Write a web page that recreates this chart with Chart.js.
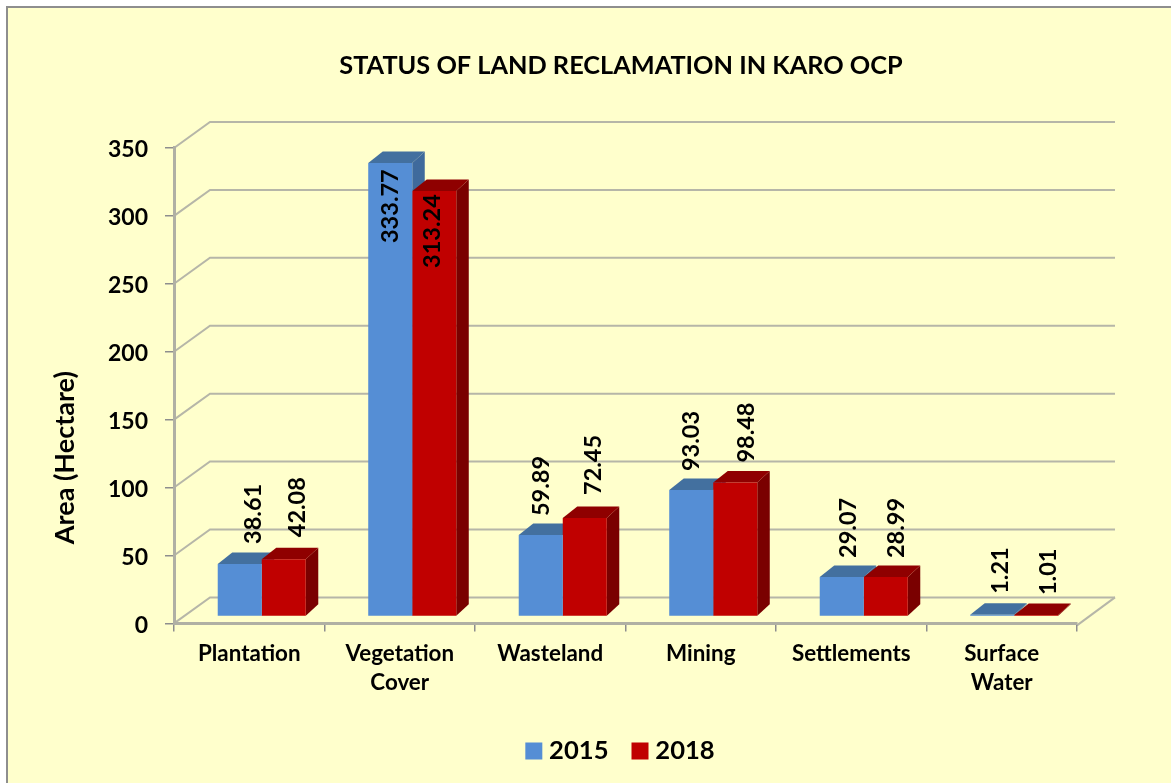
<!DOCTYPE html>
<html>
<head>
<meta charset="utf-8">
<style>
html,body{margin:0;padding:0;background:#fff;}
#wrap{position:absolute;left:0;top:0;width:1171px;height:783px;}
canvas{display:block;filter:blur(0.35px);}
</style>
<script src="https://cdn.jsdelivr.net/npm/chart.js@4/dist/chart.umd.min.js"></script>
</head>
<body>
<div id="wrap"><canvas id="c" width="1171" height="783"></canvas></div>
<script>
const categories = [["Plantation"],["Vegetation","Cover"],["Wasteland"],["Mining"],["Settlements"],["Surface","Water"]];
const seriesNames = ["2015","2018"];
const values2015 = [38.61,333.77,59.89,93.03,29.07,1.21];
const values2018 = [42.08,313.24,72.45,98.48,28.99,1.01];
const yTicks = [0,50,100,150,200,250,300,350];

// styling only
const FONT = "Lato, Carlito, sans-serif";
const front = ["#558ED5","#C00000"], topFace = ["#43709F","#8F0000"], sideFace = ["#3F6A9C","#7A0000"];
const wall = {dx:36, dy:-26};            // depth of the chart box
const barShift = {x:12.5, y:-7};         // bars stand in the middle of the floor
const barDepth = {dx:12.5, dxLeft:14.5, dy:-11.5};
const labelDx = [[14,0,1,0,7,8],[13.5,-1.5,8.5,11,10.5,12]];
const labelGap = [[20,-80,19,19,19,21],[22,-77,23,20,19,20]];

const box3d = {
  id:'box3d',
  afterLayout(chart){
    chart.titleBlock.left = 165; chart.titleBlock.right = 1077;
    chart.legend.left = 169; chart.legend.right = 1077;
    const y = chart.scales.y;
    if(!y._shifted){
      y._shifted = true;
      const orig = y.drawTitle;
      y.drawTitle = function(){
        const t=this.top,b=this.bottom;
        this.top=t+72; this.bottom=b+72;
        orig.call(this);
        this.top=t; this.bottom=b;
      };
    }
  },
  beforeDraw(chart){
    const c = chart.ctx, y = chart.scales.y, a = chart.chartArea;
    c.save();
    c.fillStyle='#fff'; c.fillRect(0,0,1171,783);
    c.fillStyle='#FFFFCC'; c.fillRect(7,7,1171,783);
    c.fillStyle='#8E8E8E';
    c.fillRect(6,6,1171,2); c.fillRect(6,6,2,783);
    c.strokeStyle='#B6B6A8'; c.lineWidth=2;
    yTicks.forEach(v=>{
      const py = y.getPixelForValue(v);
      c.beginPath();
      c.moveTo(a.left,py);
      c.lineTo(a.left+wall.dx,py+wall.dy);
      c.lineTo(a.right+wall.dx+2,py+wall.dy);
      c.stroke();
    });
    // floor, right edge
    const p0 = y.getPixelForValue(0);
    c.beginPath();
    c.moveTo(a.right,p0+2);
    c.lineTo(a.right+wall.dx+2,p0+wall.dy);
    c.stroke();
    c.restore();
  },
  beforeDatasetsDraw(chart){
    const c = chart.ctx;
    c.save();
    c.translate(barShift.x,barShift.y);
    [0,1].forEach(d=>{
      chart.getDatasetMeta(d).data.forEach(b=>{
        const l=b.x-b.width/2, r=b.x+b.width/2, t=b.y, base=b.base;
        c.fillStyle=sideFace[d];
        c.beginPath();
        c.moveTo(r,t); c.lineTo(r+barDepth.dx,t+barDepth.dy);
        c.lineTo(r+barDepth.dx,base+barDepth.dy); c.lineTo(r,base);
        c.closePath(); c.fill();
        c.fillStyle=topFace[d];
        c.beginPath();
        c.moveTo(l,t); c.lineTo(l+barDepth.dxLeft,t+barDepth.dy);
        c.lineTo(r+barDepth.dx,t+barDepth.dy); c.lineTo(r,t);
        c.closePath(); c.fill();
      });
    });
  },
  afterDatasetsDraw(chart){
    chart.ctx.restore();
  },
  afterDraw(chart){
    const c = chart.ctx;
    c.save();
    c.fillStyle='#000';
    c.font='bold 23.5px '+FONT;
    c.textAlign='left'; c.textBaseline='middle';
    [values2015,values2018].forEach((vals,d)=>{
      chart.getDatasetMeta(d).data.forEach((b,i)=>{
        const x=b.x+barShift.x+labelDx[d][i];
        const y=b.y+barShift.y-labelGap[d][i];
        c.save();
        c.translate(x,y); c.rotate(-Math.PI/2);
        c.fillText(vals[i].toFixed(2),0,0);
        c.restore();
      });
    });
    c.restore();
  }
};

new Chart(document.getElementById('c'),{
  type:'bar',
  data:{
    labels:categories,
    datasets:[
      {label:seriesNames[0],data:values2015,backgroundColor:front[0],categoryPercentage:0.585,barPercentage:1},
      {label:seriesNames[1],data:values2018,backgroundColor:front[1],categoryPercentage:0.585,barPercentage:1}
    ]
  },
  plugins:[box3d],
  options:{
    responsive:false,
    animation:false,
    layout:{padding:{left:0,right:94,top:0,bottom:9.3}},
    plugins:{
      tooltip:{enabled:false},
      title:{
        display:true,
        text:'STATUS OF LAND RECLAMATION IN KARO OCP',
        color:'#000',
        font:{family:FONT,size:25.3,weight:'bold',lineHeight:1.2},
        padding:{top:50.8,bottom:66.8}
      },
      legend:{
        position:'bottom',
        labels:{
          color:'#000',
          font:{family:FONT,size:25.6,weight:'bold'},
          boxWidth:5,boxHeight:5,padding:29,
          generateLabels(chart){
            return chart.data.datasets.map((ds,i)=>({
              text:ds.label,fillStyle:ds.backgroundColor,strokeStyle:ds.backgroundColor,
              lineWidth:12,hidden:false,datasetIndex:i,fontColor:'#000'
            }));
          }
        }
      }
    },
    scales:{
      x:{
        offset:true,
        afterFit(s){ s.height=85.7; },
        grid:{display:true,drawOnChartArea:false,drawTicks:true,tickLength:8,color:'#8E8E8E',lineWidth:1.5,offset:true},
        border:{display:true,color:'#B0B0A4',width:3},
        ticks:{
          color:'#000',padding:8,maxRotation:0,autoSkip:false,
          font:{family:FONT,size:22.4,weight:'bold',lineHeight:1.3}
        }
      },
      y:{
        min:0,max:350,
        afterFit(s){ s.width=174; },
        afterBuildTicks(s){ s.ticks=yTicks.map(v=>({value:v})); },
        title:{
          display:true,text:'Area (Hectare)',color:'#000',
          font:{family:FONT,size:27,weight:'bold',lineHeight:1.2},
          padding:{top:48.8,bottom:0}
        },
        grid:{display:true,drawOnChartArea:false,drawTicks:true,tickLength:9,color:'#8E8E8E',lineWidth:1.5},
        border:{display:true,color:'#B0B0A4',width:3},
        ticks:{
          color:'#000',padding:17,labelOffset:2,
          font:{family:FONT,size:23,weight:'bold'}
        }
      }
    }
  }
});
</script>
</body>
</html>
